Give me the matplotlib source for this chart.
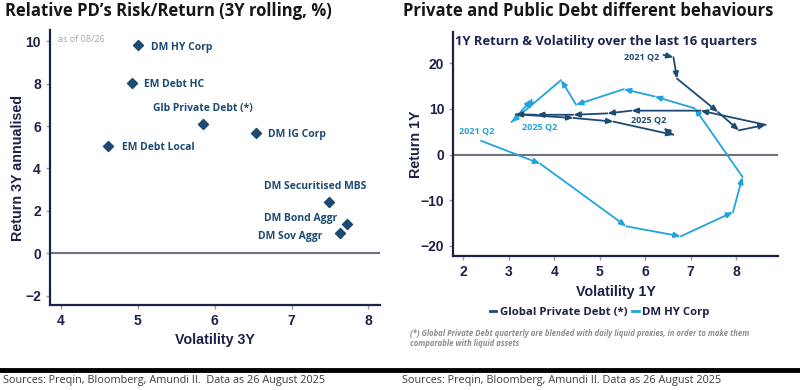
import matplotlib
matplotlib.use("Agg")
import matplotlib.pyplot as plt
from matplotlib.lines import Line2D

# ---------------- data ----------------
# Left chart: 3Y risk / return
assets = ["DM HY Corp", "EM Debt HC", "Glb Private Debt (*)", "DM IG Corp",
          "EM Debt Local", "DM Securitised MBS", "DM Bond Aggr", "DM Sov Aggr"]
vol3y = [5.00, 4.93, 5.85, 6.54, 4.61, 7.49, 7.72, 7.63]
ret3y = [9.83, 8.02, 6.10, 5.66, 5.08, 2.43, 1.37, 0.94]

# Right chart: 1Y rolling paths, 2021 Q2 -> 2025 Q2
pd_vol = [6.40, 6.62, 6.70, 7.60, 8.06, 8.65, 7.22, 5.70, 5.17, 4.42, 3.62, 3.15, 4.42, 5.30, 6.62, 6.40]
pd_ret = [21.8, 21.3, 16.6, 9.3, 5.3, 6.5, 9.6, 9.6, 9.0, 8.7, 8.7, 8.8, 8.0, 7.2, 4.3, 5.8]
hy_vol = [2.39, 3.69, 5.58, 6.78, 7.93, 8.14, 7.09, 6.21, 5.53, 4.48, 4.15, 3.06, 3.50, 3.45]
hy_ret = [3.0, -2.0, -15.7, -17.9, -12.6, -4.9, 10.1, 12.7, 14.3, 10.9, 16.3, 7.1, 12.0, 9.9]

x_ticks_left = [4, 5, 6, 7, 8]
y_ticks_left = [-2, 0, 2, 4, 6, 8, 10]
x_ticks_right = [2, 3, 4, 5, 6, 7, 8]
y_ticks_right = [-20, -10, 0, 10, 20]

# ---------------- style ----------------
NAVY = "#1d4a73"
LIGHT = "#21a4dc"
AXC = "#1e2147"
ZERO = "#70707f"
TITLEC = "#161616"

fig = plt.figure(figsize=(8, 3.9), dpi=100)

def style_axes(ax):
    for s in ["top", "right"]:
        ax.spines[s].set_visible(False)
    for s in ["left", "bottom"]:
        ax.spines[s].set_color(AXC)
        ax.spines[s].set_linewidth(1.6)
    ax.tick_params(axis="both", colors="#9a9aa6", labelcolor=AXC, length=3, width=1.0, pad=3.5)
    for lab in ax.get_xticklabels() + ax.get_yticklabels():
        lab.set_fontfamily("Liberation Sans")
        lab.set_fontweight("bold")
        lab.set_fontsize(10)
        lab.set_color(AXC)
    ax.axhline(0, color=ZERO, lw=1.5, zorder=1)

label_kw = dict(fontsize=10.3, fontweight="bold", color=AXC, family="Liberation Sans")

# ---------------- left chart ----------------
axL = fig.add_axes([0.0625, 0.218, 0.4125, 0.705])
axL.scatter(vol3y, ret3y, marker="D", s=26, color=NAVY, zorder=3)
axL.set_xlim(3.857, 8.15)
axL.set_ylim(-2.44, 10.53)
axL.set_xticks(x_ticks_left)
axL.set_yticks(y_ticks_left)
style_axes(axL)

offsets = [(9.4, -2, "left"), (8, -1.2, "left"), (0, 11.3, "center"), (8.6, -1.2, "left"),
           (10.5, -1.2, "left"), (-10, 10.8, "center"), (-7.2, 3.8, "right"), (-12.7, -2.4, "right")]
for name, x, y, (dx, dy, ha) in zip(assets, vol3y, ret3y, offsets):
    axL.annotate(name, (x, y), xytext=(dx, dy), textcoords="offset points",
                 ha=ha, va="center", fontsize=7.5, fontweight="bold",
                 color=NAVY, family="Open Sans")

axL.text(0.025, 0.965, "as of 08/26", transform=axL.transAxes, fontsize=6.5,
         color="#a3a3a3", family="Open Sans", va="center")
axL.set_xlabel("Volatility 3Y", **label_kw)
axL.set_ylabel("Return 3Y annualised", **label_kw)
axL.yaxis.set_label_coords(-0.076, 0.5)
axL.xaxis.set_label_coords(0.5, -0.102)

fig.text(0.006, 0.972, "Relative PD\u2019s Risk/Return (3Y rolling, %)", fontsize=12,
         fontweight="bold", color=TITLEC, family="Open Sans", va="center")

# ---------------- right chart ----------------
axR = fig.add_axes([0.5667, 0.3436, 0.4058, 0.5754])
axR.set_xlim(1.78, 8.92)
axR.set_ylim(-22.2, 26.9)
axR.set_xticks(x_ticks_right)
axR.set_yticks(y_ticks_right)
style_axes(axR)

def draw_path(ax, xs, ys, color):
    for i in range(len(xs) - 1):
        ax.annotate("", xy=(xs[i + 1], ys[i + 1]), xytext=(xs[i], ys[i]),
                    arrowprops=dict(arrowstyle="-|>,head_length=0.38,head_width=0.16",
                                    color=color, lw=1.3, shrinkA=0, shrinkB=0),
                    zorder=3)

draw_path(axR, hy_vol, hy_ret, LIGHT)
draw_path(axR, pd_vol, pd_ret, NAVY)

lab_kw = dict(textcoords="offset points", fontsize=6.5, fontweight="bold", family="Open Sans")
axR.annotate("2021 Q2", (pd_vol[0], pd_ret[0]), xytext=(-3.2, -1.7), ha="right", va="center",
             color=NAVY, **lab_kw)
axR.annotate("2025 Q2", (pd_vol[-1], pd_ret[-1]), xytext=(-11, 5.9), ha="center", va="center",
             color=NAVY, **lab_kw)
axR.annotate("2021 Q2", (hy_vol[0], hy_ret[0]), xytext=(-3.4, 7.2), ha="center", va="center",
             color=LIGHT, **lab_kw)
axR.annotate("2025 Q2", (hy_vol[-1], hy_ret[-1]), xytext=(7.7, -12.6), ha="center", va="center",
             color=LIGHT, **lab_kw)

axR.text(0.005, 0.955, "1Y Return & Volatility over the last 16 quarters", transform=axR.transAxes,
         fontsize=9.35, fontweight="bold", color="#1c2550", family="Open Sans", va="center")
axR.set_xlabel("Volatility 1Y", **label_kw)
axR.set_ylabel("Return 1Y", **label_kw)
axR.yaxis.set_label_coords(-0.093, 0.5)
axR.xaxis.set_label_coords(0.5, -0.129)

handles = [Line2D([0], [0], color=NAVY, lw=2), Line2D([0], [0], color=LIGHT, lw=2)]
fig.legend(handles, ["Global Private Debt (*)", "DM HY Corp"], loc="center",
           bbox_to_anchor=(0.7495, 1 - 312.7 / 390), ncol=2, frameon=False,
           handlelength=0.6, handletextpad=0.3, columnspacing=0.4,
           prop=dict(family="Open Sans", weight="bold", size=8.2), labelcolor=AXC)

fig.text(0.5125, 1 - 333.3 / 390,
         "(*) Global Private Debt quarterly are blended with daily liquid proxies, in order to make them",
         fontsize=5.57, style="italic", fontweight="bold", color="#8d8d8d", family="Open Sans", va="center")
fig.text(0.5125, 1 - 344 / 390, "comparable with liquid assets",
         fontsize=5.57, style="italic", fontweight="bold", color="#8d8d8d", family="Open Sans", va="center")

fig.text(403 / 800, 0.972, "Private and Public Debt different behaviours", fontsize=12,
         fontweight="bold", color=TITLEC, family="Open Sans", va="center")

# ---------------- footer ----------------
fig.add_artist(Line2D([0, 1], [1 - 370 / 390, 1 - 370 / 390], transform=fig.transFigure,
                      color="black", lw=3.5))
fig.text(3 / 800, 1 - 381 / 390, "Sources: Preqin, Bloomberg, Amundi II.  Data as 26 August 2025",
         fontsize=7.8, color="#3c3c3c", family="Open Sans", va="center")
fig.text(402 / 800, 1 - 381 / 390, "Sources: Preqin, Bloomberg, Amundi II. Data as 26 August 2025",
         fontsize=7.8, color="#3c3c3c", family="Open Sans", va="center")

fig.savefig("out.png", dpi=100)
